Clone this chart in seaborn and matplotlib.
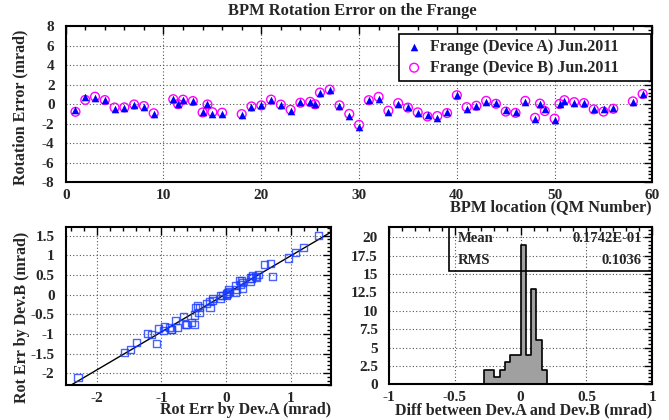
import numpy as np
import seaborn as sns
import matplotlib.pyplot as plt
from matplotlib.ticker import MultipleLocator, FuncFormatter

# BPM locations (QM number) and rotation errors [mrad] from the two devices
qm = [1, 2, 3, 4, 5, 6, 7, 8, 9, 11, 11.5, 12, 13, 14, 14.5, 15, 16, 18, 19, 20,
      21, 22, 23, 24, 25, 25.5, 26, 27, 28, 29, 30, 31, 32, 33, 34, 35, 36, 37, 38, 39,
      40, 41, 42, 43, 44, 45, 46, 47, 48, 48.5, 49, 50, 50.5, 51, 52, 53, 54, 55, 56, 58, 59]
dev_a = [-0.62, 0.72, 0.68, 0.47, -0.48, -0.41, -0.06, -0.26, -0.97, 0.50, 0.00, 0.45, 0.38,
         -0.75, 0.01, -0.96, -1.04, -1.15, -0.30, -0.09, 0.40, -0.08, -0.66, 0.25, 0.22, 0.00,
         1.20, 1.43, -0.21, -1.22, -2.29, 0.39, 0.59, -0.79, 0.03, -0.25, -0.87, -1.07, -1.38,
         -0.84, 0.96, -0.44, -0.21, 0.20, 0.14, -0.63, -0.84, 0.24, -1.48, 0.05, -0.53, -1.57,
         0.02, 0.37, 0.15, 0.16, -0.49, -0.49, -0.42, 0.25, 1.07]
dev_b = [-0.77, 0.45, 0.78, 0.43, -0.33, -0.32, -0.02, -0.18, -0.92, 0.52, 0.02, 0.47, 0.33,
         -0.84, -0.02, -0.81, -0.86, -1.01, -0.22, -0.11, 0.48, -0.03, -0.56, 0.16, 0.25, 0.00,
         1.20, 1.50, -0.11, -0.99, -2.11, 0.42, 0.76, -0.66, 0.12, -0.34, -0.83, -1.25, -1.21,
         -0.90, 0.93, -0.29, -0.15, 0.35, 0.05, -0.75, -0.88, 0.35, -1.39, 0.07, -0.70, -1.47,
         0.04, 0.42, 0.22, 0.12, -0.52, -0.75, -0.46, 0.30, 1.06]

# histogram of the difference between the devices
diff_edges = [-0.28, -0.24, -0.20, -0.16, -0.12, -0.08, -0.04, 0.0, 0.04, 0.08, 0.12, 0.16, 0.20]
diff_counts = [2, 2, 1, 2, 3, 4, 4, 19, 4, 13, 6, 2]
diff_centers = [(lo + hi) / 2 for lo, hi in zip(diff_edges[:-1], diff_edges[1:])]
stat_mean = '0.1742E-01'
stat_rms = '0.1036'

sns.set_theme(style='white')
plt.rcParams['font.family'] = ['Liberation Serif', 'DejaVu Serif']
plt.rcParams['font.weight'] = 'bold'
plt.rcParams['axes.unicode_minus'] = False

fmt = FuncFormatter(lambda v, p: '%g' % round(v, 6))


def root_style(ax, xmaj, xmin, ymaj, ymin):
    ax.xaxis.set_major_locator(MultipleLocator(xmaj))
    ax.xaxis.set_minor_locator(MultipleLocator(xmin))
    ax.yaxis.set_major_locator(MultipleLocator(ymaj))
    ax.yaxis.set_minor_locator(MultipleLocator(ymin))
    ax.xaxis.set_major_formatter(fmt)
    ax.yaxis.set_major_formatter(fmt)
    ax.tick_params(which='both', direction='in', top=True, right=True,
                   labelsize=11, color='black', width=1)
    ax.tick_params(which='major', length=6)
    ax.tick_params(which='minor', length=3)
    ax.tick_params(axis='y', pad=8)
    ax.tick_params(axis='x', pad=5)
    ax.grid(True, which='major', linestyle=(0, (1, 2)), color='#555555', lw=0.8)
    ax.set_axisbelow(True)
    for sp in ax.spines.values():
        sp.set_linewidth(1.5)
        sp.set_color('black')
    ax.set_xlabel('')
    ax.set_ylabel('')


fig = plt.figure(figsize=(6.69, 4.2), dpi=100)
ax1 = fig.add_axes([0.0982, 0.566, 0.877, 0.3714])
ax2 = fig.add_axes([0.0982, 0.0833, 0.3966, 0.3755])
ax3 = fig.add_axes([0.5815, 0.085, 0.3935, 0.3745])

# top: rotation error vs BPM location
sns.scatterplot(x=qm, y=dev_b, ax=ax1, marker='o', s=40, fc='none', ec='#ff00ff',
                linewidth=1.0, label='Frange (Device B) Jun.2011', zorder=3)
sns.scatterplot(x=qm, y=dev_a, ax=ax1, marker='^', s=30, color='#0000ff',
                linewidth=0, label='Frange (Device A) Jun.2011', zorder=4)
ax1.set_xlim(0, 60)
ax1.set_ylim(-8, 8)
root_style(ax1, 10, 2, 2, 0.4)
h, l = ax1.get_legend_handles_labels()
leg = ax1.legend(h[::-1], l[::-1], loc='center', mode='expand',
                 bbox_to_anchor=(0.568, 0.643, 0.4295, 0.314), borderaxespad=0,
                 fancybox=False, framealpha=1, edgecolor='black',
                 prop={'family': 'Liberation Serif', 'weight': 'bold', 'size': 11.5},
                 labelspacing=0.3, borderpad=0.35, handletextpad=0.4, handlelength=1.2)
leg.get_frame().set_linewidth(1.2)

# bottom left: device B vs device A
ax2.set_xlim(-2.48, 1.62)
sns.regplot(x=dev_a, y=dev_b, ax=ax2, ci=None, truncate=False, marker='s',
            scatter_kws=dict(s=26, fc='none', ec='#1a3cff', linewidths=1.0, zorder=3),
            line_kws=dict(color='black', lw=1.0))
ax2.set_ylim(-2.30, 1.71)
root_style(ax2, 1, 0.2, 0.5, 0.1)

# bottom right: histogram of the difference
sns.histplot(x=diff_centers, weights=diff_counts, bins=diff_edges, ax=ax3,
             element='step', fill=True, color='#a0a0a0', alpha=1,
             edgecolor='black', linewidth=1.2, zorder=2)
ax3.set_xlim(-1, 1)
ax3.set_ylim(0, 21.4)
root_style(ax3, 0.5, 0.1, 2.5, 0.5)
ax3.add_patch(plt.Rectangle((0.228, 0.722), 0.772, 0.278, transform=ax3.transAxes,
                            fill=False, ec='black', lw=1.2, clip_on=False, zorder=5))
for yy, name, val in [(0.924, 'Mean', stat_mean), (0.786, 'RMS', stat_rms)]:
    ax3.text(0.262, yy, name, transform=ax3.transAxes, ha='left', va='center',
             fontsize=10.5, fontweight='bold')
    ax3.text(0.96, yy, val, transform=ax3.transAxes, ha='right', va='center',
             fontsize=10.5, fontweight='bold')

# titles and axis labels
fig.text(0.526, 0.973, 'BPM Rotation Error on the Frange', ha='center', va='center',
         fontsize=11.9, fontweight='bold')
fig.text(0.031, 0.929, 'Rotation Error (mrad)', rotation=90, ha='center', va='top',
         fontsize=11.5, fontweight='bold')
fig.text(0.033, 0.448, 'Rot Err by Dev.B (mrad)', rotation=90, ha='center', va='top',
         fontsize=11.5, fontweight='bold')
fig.text(652 / 669, 1 - 207 / 420, 'BPM location (QM Number)', ha='right', va='center',
         fontsize=11.8, fontweight='bold')
fig.text(331 / 669, 1 - 410 / 420, 'Rot Err by Dev.A (mrad)', ha='right', va='center',
         fontsize=11.5, fontweight='bold')
fig.text(652 / 669, 1 - 410 / 420, 'Diff between Dev.A and Dev.B (mrad)', ha='right',
         va='center', fontsize=11.5, fontweight='bold')

fig.savefig('out.png', dpi=100)
